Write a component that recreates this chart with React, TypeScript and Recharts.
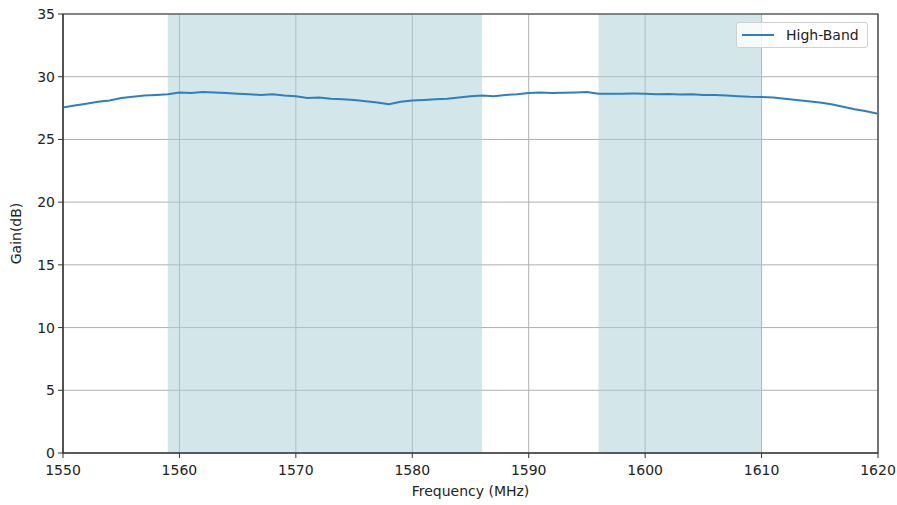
import {
  LineChart,
  Line,
  XAxis,
  YAxis,
  CartesianGrid,
  ReferenceArea,
} from 'recharts';

const frequencies = [
  1550, 1551, 1552, 1553, 1554, 1555, 1556, 1557, 1558, 1559,
  1560, 1561, 1562, 1563, 1564, 1565, 1566, 1567, 1568, 1569,
  1570, 1571, 1572, 1573, 1574, 1575, 1576, 1577, 1578, 1579,
  1580, 1581, 1582, 1583, 1584, 1585, 1586, 1587, 1588, 1589,
  1590, 1591, 1592, 1593, 1594, 1595, 1596, 1597, 1598, 1599,
  1600, 1601, 1602, 1603, 1604, 1605, 1606, 1607, 1608, 1609,
  1610, 1611, 1612, 1613, 1614, 1615, 1616, 1617, 1618, 1619,
  1620,
];

const highBandGain = [
  27.55, 27.7, 27.85, 28.0, 28.1, 28.3, 28.4, 28.5, 28.55, 28.6,
  28.75, 28.7, 28.78, 28.75, 28.7, 28.65, 28.6, 28.55, 28.6, 28.5,
  28.45, 28.3, 28.35, 28.25, 28.2, 28.15, 28.05, 27.95, 27.8, 28.0,
  28.1, 28.15, 28.2, 28.25, 28.35, 28.45, 28.5, 28.45, 28.55, 28.6,
  28.7, 28.75, 28.7, 28.72, 28.75, 28.78, 28.65, 28.65, 28.65, 28.66,
  28.65, 28.6, 28.62, 28.58, 28.6, 28.55, 28.55, 28.5, 28.45, 28.4,
  28.38, 28.35, 28.25, 28.15, 28.05, 27.95, 27.8, 27.6, 27.4, 27.25,
  27.05,
];

const xTicks = [1550, 1560, 1570, 1580, 1590, 1600, 1610, 1620];
const yTicks = [0, 5, 10, 15, 20, 25, 30, 35];

// shaded bands (MHz)
const bands = [
  [1559, 1586],
  [1596, 1610],
];

const data = frequencies.map((f, i) => ({ freq: f, gain: highBandGain[i] }));

const font = 'DejaVu Sans, sans-serif';
const lineColor = '#2e7fc0';

function LegendBox() {
  return (
    <div
      style={{
        position: 'absolute',
        top: 22,
        left: 736,
        display: 'flex',
        alignItems: 'center',
        background: 'rgba(255,255,255,0.8)',
        border: '1px solid #d0d0d0',
        borderRadius: 3,
        padding: '4px 8px 4px 5px',
        fontFamily: font,
        fontSize: 14,
        color: '#222',
      }}
    >
      <span
        style={{
          display: 'inline-block',
          width: 32,
          height: 2,
          background: lineColor,
          marginRight: 12,
        }}
      />
      High-Band
    </div>
  );
}

export default function App() {
  // pinned to the page corner so the 897x505 chart fits without scrollbars
  return (
    <div style={{ position: 'absolute', top: 0, left: 0, width: 897, height: 505 }}>
      <LineChart
        width={897}
        height={505}
        data={data}
        margin={{ top: 14, right: 19, left: 0, bottom: 22 }}
        style={{ fontFamily: font }}
      >
        <CartesianGrid stroke="#b0b0b0" strokeWidth={1} />
        {bands.map(([a, b]) => (
          <ReferenceArea
            key={a}
            x1={a}
            x2={b}
            y1={0}
            y2={35}
            fill="#a7cdd6"
            fillOpacity={0.5}
            stroke="none"
            ifOverflow="hidden"
          />
        ))}
        <ReferenceArea
          x1={1550}
          x2={1620}
          y1={0}
          y2={35}
          fill="none"
          stroke="#333"
          strokeWidth={1.2}
        />
        <XAxis
          dataKey="freq"
          type="number"
          domain={[1550, 1620]}
          ticks={xTicks}
          interval={0}
          allowDataOverflow
          height={30}
          tickSize={5}
          tickMargin={7}
          stroke="#333"
          tick={{ fill: '#222', fontSize: 14, fontFamily: font }}
          label={{
            value: 'Frequency (MHz)',
            position: 'insideBottom',
            offset: -13,
            fill: '#222',
            fontSize: 14,
            fontFamily: font,
          }}
        />
        <YAxis
          type="number"
          domain={[0, 35]}
          ticks={yTicks}
          interval={0}
          width={63}
          tickSize={5}
          tickMargin={3}
          stroke="#333"
          tick={{ fill: '#222', fontSize: 14, fontFamily: font }}
          label={{
            value: 'Gain(dB)',
            angle: -90,
            position: 'insideLeft',
            offset: 16,
            fill: '#222',
            fontSize: 14,
            fontFamily: font,
            style: { textAnchor: 'middle' },
          }}
        />
        <Line
          type="linear"
          dataKey="gain"
          name="High-Band"
          stroke={lineColor}
          strokeWidth={2}
          dot={false}
          isAnimationActive={false}
        />
      </LineChart>
      <LegendBox />
    </div>
  );
}
